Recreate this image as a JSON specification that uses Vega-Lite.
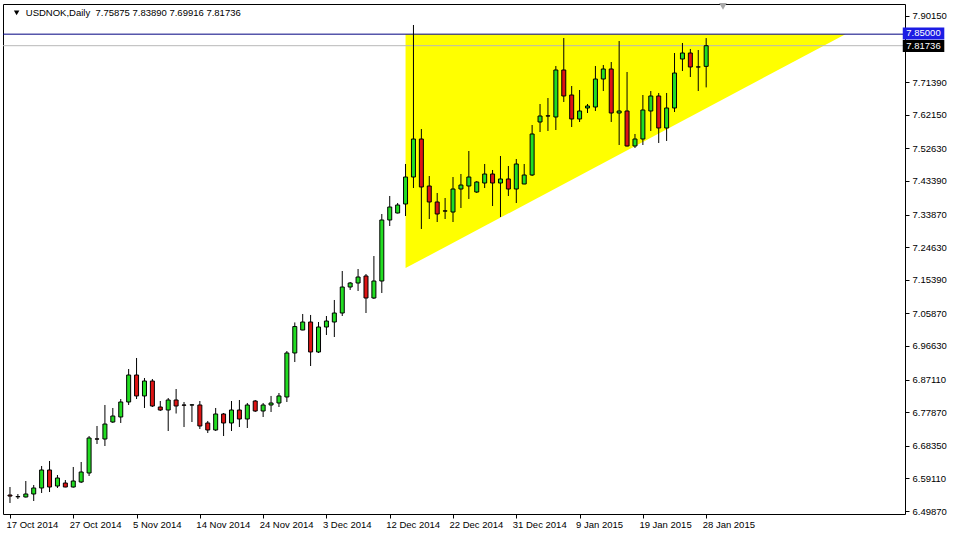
{
  "$schema": "https://vega.github.io/schema/vega-lite/v6.json",
  "width": 902,
  "height": 510,
  "autosize": {"type": "none"},
  "padding": {"left": 3, "top": 4, "right": 48, "bottom": 21},
  "background": "white",
  "config": {
    "font": "Liberation Sans",
    "view": {"stroke": "black", "strokeWidth": 1},
    "axis": {"labelFont": "Liberation Sans", "labelFontSize": 9.5, "labelColor": "black", "tickColor": "black", "tickWidth": 1, "domain": false, "grid": false, "labelOverlap": false, "labelSeparation": 0}
  },
  "datasets": {
    "candles": [
      {"i":0,"open":6.5440,"high":6.5667,"low":6.5214,"close":6.5410},
      {"i":1,"open":6.5390,"high":6.5469,"low":6.5327,"close":6.5395},
      {"i":2,"open":6.5384,"high":6.5837,"low":6.5370,"close":6.5469},
      {"i":3,"open":6.5469,"high":6.5724,"low":6.5270,"close":6.5639},
      {"i":4,"open":6.5639,"high":6.6262,"low":6.5497,"close":6.6149},
      {"i":5,"open":6.6149,"high":6.6404,"low":6.5525,"close":6.5667},
      {"i":6,"open":6.5695,"high":6.6007,"low":6.5639,"close":6.5922},
      {"i":7,"open":6.5780,"high":6.5865,"low":6.5660,"close":6.5667},
      {"i":8,"open":6.5667,"high":6.6234,"low":6.5650,"close":6.5837},
      {"i":9,"open":6.5809,"high":6.6376,"low":6.5780,"close":6.6092},
      {"i":10,"open":6.6064,"high":6.7112,"low":6.5979,"close":6.7056},
      {"i":11,"open":6.7030,"high":6.7396,"low":6.6886,"close":6.7025},
      {"i":12,"open":6.7027,"high":6.7991,"low":6.6829,"close":6.7452},
      {"i":13,"open":6.7509,"high":6.7906,"low":6.7481,"close":6.7679},
      {"i":14,"open":6.7651,"high":6.8161,"low":6.7481,"close":6.8076},
      {"i":15,"open":6.8076,"high":6.9011,"low":6.7991,"close":6.8841},
      {"i":16,"open":6.8841,"high":6.9323,"low":6.8161,"close":6.8247},
      {"i":17,"open":6.8247,"high":6.8756,"low":6.7906,"close":6.8671},
      {"i":18,"open":6.8671,"high":6.8728,"low":6.7934,"close":6.7963},
      {"i":19,"open":6.7934,"high":6.8104,"low":6.7821,"close":6.7849},
      {"i":20,"open":6.7849,"high":6.8189,"low":6.7254,"close":6.8133},
      {"i":21,"open":6.8133,"high":6.8444,"low":6.7750,"close":6.7963},
      {"i":22,"open":6.7991,"high":6.8076,"low":6.7367,"close":6.7985},
      {"i":23,"open":6.7990,"high":6.8019,"low":6.7509,"close":6.7995},
      {"i":24,"open":6.7991,"high":6.8104,"low":6.7311,"close":6.7396},
      {"i":25,"open":6.7481,"high":6.7538,"low":6.7197,"close":6.7283},
      {"i":26,"open":6.7283,"high":6.7906,"low":6.7254,"close":6.7736},
      {"i":27,"open":6.7736,"high":6.7764,"low":6.7112,"close":6.7481},
      {"i":28,"open":6.7481,"high":6.8104,"low":6.7254,"close":6.7849},
      {"i":29,"open":6.7849,"high":6.8133,"low":6.7367,"close":6.7594},
      {"i":30,"open":6.7594,"high":6.8048,"low":6.7339,"close":6.7991},
      {"i":31,"open":6.8104,"high":6.8133,"low":6.7793,"close":6.7821},
      {"i":32,"open":6.7821,"high":6.8048,"low":6.7651,"close":6.7991},
      {"i":33,"open":6.7991,"high":6.8247,"low":6.7793,"close":6.8048},
      {"i":34,"open":6.8048,"high":6.8331,"low":6.7934,"close":6.8247},
      {"i":35,"open":6.8218,"high":6.9521,"low":6.8076,"close":6.9465},
      {"i":36,"open":6.9465,"high":7.0331,"low":6.9209,"close":7.0214},
      {"i":37,"open":7.0116,"high":7.0570,"low":7.0110,"close":7.0343},
      {"i":38,"open":7.0343,"high":7.0542,"low":6.9096,"close":6.9493},
      {"i":39,"open":6.9493,"high":7.0343,"low":6.9465,"close":7.0201},
      {"i":40,"open":7.0201,"high":7.0513,"low":6.9975,"close":7.0371},
      {"i":41,"open":7.0343,"high":7.0967,"low":6.9918,"close":7.0598},
      {"i":42,"open":7.0598,"high":7.1788,"low":7.0513,"close":7.1335},
      {"i":43,"open":7.1335,"high":7.1477,"low":7.1250,"close":7.1448},
      {"i":44,"open":7.1448,"high":7.1845,"low":7.1222,"close":7.1618},
      {"i":45,"open":7.1647,"high":7.1703,"low":7.0598,"close":7.1023},
      {"i":46,"open":7.1023,"high":7.2213,"low":7.0995,"close":7.1505},
      {"i":47,"open":7.1505,"high":7.3404,"low":7.1165,"close":7.3234},
      {"i":48,"open":7.3234,"high":7.3914,"low":7.3064,"close":7.3602},
      {"i":49,"open":7.3432,"high":7.3715,"low":7.3420,"close":7.3659},
      {"i":50,"open":7.3687,"high":7.4821,"low":7.3347,"close":7.4452},
      {"i":51,"open":7.4452,"high":7.8760,"low":7.4140,"close":7.5529},
      {"i":52,"open":7.5529,"high":7.5812,"low":7.2979,"close":7.4169},
      {"i":53,"open":7.4197,"high":7.4480,"low":7.3262,"close":7.3744},
      {"i":54,"open":7.3744,"high":7.3999,"low":7.3177,"close":7.3404},
      {"i":55,"open":7.3492,"high":7.3857,"low":7.3262,"close":7.3487},
      {"i":56,"open":7.3460,"high":7.4452,"low":7.3177,"close":7.4112},
      {"i":57,"open":7.4112,"high":7.4537,"low":7.3574,"close":7.4225},
      {"i":58,"open":7.4197,"high":7.5189,"low":7.3829,"close":7.4452},
      {"i":59,"open":7.4027,"high":7.4338,"low":7.3999,"close":7.4310},
      {"i":60,"open":7.4282,"high":7.4821,"low":7.4140,"close":7.4537},
      {"i":61,"open":7.4537,"high":7.4651,"low":7.3630,"close":7.4282},
      {"i":62,"open":7.4282,"high":7.5047,"low":7.3319,"close":7.4396},
      {"i":63,"open":7.4396,"high":7.4764,"low":7.3914,"close":7.4112},
      {"i":64,"open":7.4112,"high":7.4962,"low":7.3715,"close":7.4821},
      {"i":65,"open":7.4254,"high":7.4821,"low":7.4250,"close":7.4509},
      {"i":66,"open":7.4509,"high":7.5926,"low":7.4480,"close":7.5671},
      {"i":67,"open":7.6011,"high":7.6521,"low":7.5727,"close":7.6181},
      {"i":68,"open":7.6185,"high":7.6691,"low":7.5756,"close":7.6181},
      {"i":69,"open":7.6153,"high":7.7598,"low":7.5784,"close":7.7485},
      {"i":70,"open":7.7485,"high":7.8391,"low":7.6578,"close":7.6748},
      {"i":71,"open":7.6776,"high":7.7031,"low":7.5869,"close":7.6096},
      {"i":72,"open":7.6096,"high":7.6918,"low":7.6011,"close":7.6323},
      {"i":73,"open":7.6408,"high":7.6521,"low":7.6266,"close":7.6464},
      {"i":74,"open":7.6436,"high":7.7598,"low":7.6323,"close":7.7229},
      {"i":75,"open":7.7229,"high":7.7626,"low":7.6889,"close":7.7513},
      {"i":76,"open":7.7513,"high":7.7711,"low":7.6011,"close":7.6266},
      {"i":77,"open":7.6266,"high":7.8306,"low":7.5359,"close":7.6323},
      {"i":78,"open":7.6323,"high":7.7428,"low":7.5317,"close":7.5331},
      {"i":79,"open":7.5331,"high":7.5671,"low":7.5274,"close":7.5529},
      {"i":80,"open":7.5529,"high":7.6776,"low":7.5359,"close":7.6351},
      {"i":81,"open":7.6323,"high":7.6889,"low":7.5756,"close":7.6748},
      {"i":82,"open":7.6748,"high":7.6833,"low":7.5416,"close":7.5841},
      {"i":83,"open":7.5841,"high":7.6833,"low":7.5473,"close":7.6408},
      {"i":84,"open":7.6408,"high":7.7966,"low":7.6294,"close":7.7399},
      {"i":85,"open":7.7796,"high":7.8250,"low":7.7456,"close":7.7966},
      {"i":86,"open":7.7966,"high":7.8080,"low":7.7286,"close":7.7570},
      {"i":87,"open":7.7570,"high":7.8051,"low":7.6889,"close":7.7572},
      {"i":88,"open":7.75875,"high":7.83890,"low":7.69916,"close":7.81736}
    ],
    "triangle": [
      {"i":50,"lower":7.187,"upper":7.85},
      {"i":105.6,"lower":7.85,"upper":7.85}
    ]
  },
  "layer": [
    {
      "data": {"name": "triangle"},
      "mark": {"type": "area", "color": "#FFFF00", "opacity": 1},
      "encoding": {
        "x": {"field": "i", "type": "quantitative", "title": null,
          "scale": {"domain": [-0.25, 112.5], "nice": false, "zero": false},
          "axis": {"orient": "bottom", "values": [0,8,16,24,32,40,48,56,64,72,80,88], "tickCount": 40, "tickSize": 4, "labelPadding": 1, "labelAlign": "left", "labelOffset": -4, "labelOverlap": false,
            "labelExpr": "['17 Oct 2014','27 Oct 2014','5 Nov 2014','14 Nov 2014','24 Nov 2014','3 Dec 2014','12 Dec 2014','22 Dec 2014','31 Dec 2014','9 Jan 2015','19 Jan 2015','28 Jan 2015'][round(datum.value/8)]"}},
        "y": {"field": "lower", "type": "quantitative", "title": null,
          "scale": {"domain": [6.4902, 7.9355], "nice": false, "zero": false},
          "axis": {"orient": "right", "values": [6.4987,6.5911,6.6835,6.7787,6.8711,6.9663,7.0587,7.1539,7.2463,7.3387,7.4339,7.5263,7.6215,7.7139,7.9015], "tickCount": 40, "format": ".5f", "tickSize": 4, "labelPadding": 3, "labelOverlap": false, "labelSeparation": 0, "labelBaseline": "middle"}},
        "y2": {"field": "upper"}
      }
    },
    {
      "data": {"values": [{"level": 7.85}]},
      "mark": {"type": "rule", "color": "#000080", "strokeWidth": 1},
      "encoding": {"y": {"field": "level", "type": "quantitative", "title": null}}
    },
    {
      "data": {"values": [{"level": 7.81736}]},
      "mark": {"type": "rule", "color": "#B8B8B8", "strokeWidth": 1},
      "encoding": {"y": {"field": "level", "type": "quantitative", "title": null}}
    },
    {
      "data": {"name": "candles"},
      "mark": {"type": "rule", "color": "black", "strokeWidth": 1},
      "encoding": {
        "x": {"field": "i", "type": "quantitative", "title": null},
        "y": {"field": "low", "type": "quantitative", "title": null},
        "y2": {"field": "high"}
      }
    },
    {
      "data": {"name": "candles"},
      "mark": {"type": "bar", "width": 4, "stroke": "black", "strokeWidth": 1},
      "encoding": {
        "x": {"field": "i", "type": "quantitative", "title": null},
        "y": {"field": "open", "type": "quantitative", "title": null},
        "y2": {"field": "close"},
        "fill": {"condition": {"test": "datum.close >= datum.open", "value": "#22DD22"}, "value": "#DD1414"}
      }
    },
    {
      "data": {"values": [{"label": "USDNOK,Daily\u00a0 7.75875 7.83890 7.69916 7.81736"}]},
      "mark": {"type": "text", "align": "left", "baseline": "middle", "fontSize": 9.5, "color": "black", "font": "Liberation Sans"},
      "encoding": {
        "x": {"datum": 2.0, "type": "quantitative", "title": null},
        "y": {"datum": 7.9114, "type": "quantitative", "title": null},
        "text": {"field": "label"}
      }
    },
    {
      "data": {"values": [{"marker": "menu"}]},
      "mark": {"type": "point", "shape": "triangle-down", "filled": true, "size": 30, "color": "black", "opacity": 1},
      "encoding": {
        "x": {"datum": 0.84, "type": "quantitative", "title": null},
        "y": {"datum": 7.9105, "type": "quantitative", "title": null}
      }
    },
    {
      "data": {"values": [{"marker": "shift"}]},
      "mark": {"type": "point", "shape": "triangle-down", "filled": true, "size": 60, "color": "#A8A8A8", "opacity": 1, "clip": false},
      "encoding": {
        "x": {"datum": 90.125, "type": "quantitative", "title": null},
        "y": {"datum": 7.9290, "type": "quantitative", "title": null}
      }
    },
    {
      "data": {"values": [{"price": "7.85000", "top": 7.8689, "bottom": 7.8349, "bg": "blue"}, {"price": "7.81736", "top": 7.8335, "bottom": 7.7995, "bg": "black"}]},
      "mark": {"type": "rect", "clip": false},
      "encoding": {
        "x": {"datum": 112.85, "type": "quantitative", "title": null},
        "x2": {"datum": 118.1},
        "y": {"field": "top", "type": "quantitative", "title": null},
        "y2": {"field": "bottom"},
        "fill": {"field": "bg", "type": "nominal", "scale": {"domain": ["blue", "black"], "range": ["#1C1CE4", "#000000"]}, "legend": null}
      }
    },
    {
      "data": {"values": [{"price": "7.85000", "level": 7.8519}, {"price": "7.81736", "level": 7.8165}]},
      "mark": {"type": "text", "align": "left", "baseline": "middle", "fontSize": 9.5, "color": "white", "font": "Liberation Sans", "clip": false},
      "encoding": {
        "x": {"datum": 113.3, "type": "quantitative", "title": null},
        "y": {"field": "level", "type": "quantitative", "title": null},
        "text": {"field": "price"}
      }
    }
  ]
}
